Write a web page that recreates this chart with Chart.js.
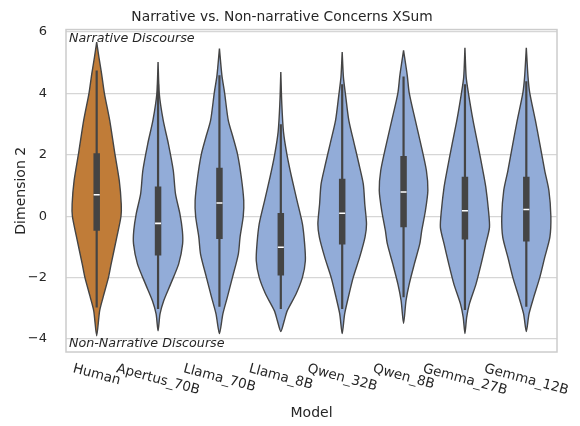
<!DOCTYPE html>
<html>
<head>
<meta charset="utf-8">
<script src="https://cdn.jsdelivr.net/npm/chart.js@4.4.1/dist/chart.umd.min.js"></script>
<style>
  html, body { margin: 0; padding: 0; background: #fff; }
  #wrap { width: 580px; height: 426px; }
</style>
</head>
<body>
<div id="wrap"><canvas id="chart" width="580" height="426"></canvas></div>
<script>
const models = ["Human", "Apertus_70B", "Llama_70B", "Llama_8B", "Qwen_32B", "Qwen_8B", "Gemma_27B", "Gemma_12B"];

// box stats per model
const whiskLow = [-2.97, -3.02, -2.95, -3.02, -3.02, -2.64, -3.05, -2.95];
const q1 = [-0.47, -1.28, -0.74, -1.93, -0.92, -0.36, -0.76, -0.82];
const medians = [0.70, -0.23, 0.43, -1.01, 0.10, 0.79, 0.18, 0.22];
const q3 = [2.05, 0.97, 1.58, 0.11, 1.22, 1.96, 1.29, 1.29];
const whiskHigh = [4.75, 4.30, 4.59, 3.00, 4.30, 4.55, 4.30, 4.40];

// kde outlines: [value, relative density], top to bottom
const humanKde = [[5.67, 0], [5.18, 0.09], [4.64, 0.20], [4.02, 0.31], [3.12, 0.53], [2.09, 0.73], [1.16, 0.92], [0.40, 1.0], [0, 0.99], [-0.68, 0.82], [-1.55, 0.59], [-1.99, 0.48], [-2.64, 0.26], [-3.08, 0.12], [-3.89, 0]];
const apertusKde = [[5.02, 0], [3.99, 0.05], [3.12, 0.21], [2.36, 0.42], [1.49, 0.62], [0.73, 0.71], [0.08, 0.89], [-0.47, 0.99], [-0.90, 1.0], [-1.55, 0.84], [-2.21, 0.51], [-2.75, 0.23], [-3.18, 0.08], [-3.73, 0]];
const llama70Kde = [[5.46, 0], [4.59, 0.10], [4.02, 0.21], [3.12, 0.36], [2.58, 0.55], [2.01, 0.74], [1.27, 0.89], [0.51, 0.99], [0, 0.97], [-0.68, 0.84], [-1.23, 0.77], [-1.99, 0.53], [-2.64, 0.32], [-3.18, 0.14], [-3.82, 0]];
const llama8Kde = [[4.70, 0], [3.66, 0.04], [2.74, 0.11], [2.01, 0.25], [1.27, 0.44], [0.51, 0.66], [-0.25, 0.88], [-0.90, 0.97], [-1.45, 1.0], [-1.99, 0.88], [-2.53, 0.62], [-3.08, 0.26], [-3.40, 0.14], [-3.75, 0]];
const qwen32Kde = [[5.35, 0], [4.53, 0.05], [3.93, 0.14], [3.12, 0.27], [2.36, 0.49], [1.71, 0.68], [1.05, 0.86], [0.40, 0.92], [-0.25, 0.99], [-0.68, 0.93], [-1.34, 0.71], [-1.99, 0.45], [-2.64, 0.25], [-3.18, 0.10], [-3.82, 0]];
const qwen8Kde = [[5.40, 0], [4.59, 0.15], [4.02, 0.23], [3.12, 0.48], [2.36, 0.70], [1.49, 0.93], [0.84, 0.99], [0.18, 0.89], [-0.47, 0.74], [-0.90, 0.66], [-1.55, 0.44], [-2.21, 0.23], [-2.75, 0.10], [-3.49, 0]];
const gemma27Kde = [[5.49, 0], [4.53, 0.05], [4.02, 0.14], [3.12, 0.33], [2.36, 0.52], [1.49, 0.73], [0.95, 0.85], [0.18, 0.96], [-0.36, 1.0], [-0.90, 0.85], [-1.55, 0.66], [-2.21, 0.45], [-2.86, 0.18], [-3.29, 0.07], [-3.82, 0]];
const gemma12Kde = [[5.49, 0], [4.53, 0.07], [4.02, 0.14], [3.12, 0.37], [2.36, 0.55], [1.49, 0.75], [0.84, 0.92], [0, 1.0], [-0.68, 0.96], [-1.34, 0.75], [-1.99, 0.55], [-2.64, 0.30], [-3.18, 0.11], [-3.75, 0]];
const kdeShapes = [humanKde, apertusKde, llama70Kde, llama8Kde, qwen32Kde, qwen8Kde, gemma27Kde, gemma12Kde];

const yTicks = [-4, -2, 0, 2, 4, 6];

const FONT = "'DejaVu Sans', sans-serif";
const TEXT = "#262626";
const LINE = "#444444";
const HUMAN_FILL = "#c07c38";
const MODEL_FILL = "#92acd8";
const halfWidth = 0.4; // widest violin half-width, in category units

const datasets = [];
models.forEach((name, i) => {
  const shape = kdeShapes[i];
  const right = shape.map(([v, d]) => ({ x: i + d * halfWidth, y: v }));
  const left = shape.slice().reverse().map(([v, d]) => ({ x: i - d * halfWidth, y: v }));
  datasets.push({
    label: name,
    data: right.concat(left.slice(1)),
    backgroundColor: i === 0 ? HUMAN_FILL : MODEL_FILL,
    borderColor: LINE,
    borderWidth: 1.4,
    fill: "shape",
    tension: 0.25,
    pointRadius: 0,
    order: 3
  });
  datasets.push({
    data: [{ x: i, y: whiskLow[i] }, { x: i, y: whiskHigh[i] }],
    borderColor: LINE,
    borderWidth: 2.2,
    pointRadius: 0,
    fill: false,
    order: 2
  });
  datasets.push({
    data: [{ x: i, y: q1[i] }, { x: i, y: q3[i] }],
    borderColor: LINE,
    borderWidth: 6.5,
    borderCapStyle: "butt",
    pointRadius: 0,
    fill: false,
    order: 1
  });
  datasets.push({
    type: "scatter",
    data: [{ x: i, y: medians[i] }],
    pointStyle: "line",
    pointRadius: 3,
    pointBorderWidth: 1.6,
    pointBorderColor: "#ffffff",
    order: 0
  });
});

// frame, corner notes and slanted category labels
const decor = {
  id: "decor",
  afterDatasetsDraw(chart) {
    const { ctx, chartArea: a } = chart;
    ctx.save();
    ctx.strokeStyle = "#cccccc";
    ctx.lineWidth = 1.5;
    ctx.strokeRect(a.left, a.top, a.right - a.left, a.bottom - a.top);
    ctx.restore();
  },
  afterDraw(chart) {
    const { ctx, chartArea: a } = chart;
    const xs = chart.scales.x;
    ctx.save();
    ctx.fillStyle = TEXT;
    ctx.font = "italic 12.7px " + FONT;
    ctx.textAlign = "left";
    ctx.textBaseline = "alphabetic";
    ctx.fillText("Narrative Discourse", a.left + 3, a.top + 12);
    ctx.fillText("Non-Narrative Discourse", a.left + 3, a.bottom - 5);

    const size = 13.5;
    const rot = 15 * Math.PI / 180;
    ctx.font = size + "px " + FONT;
    ctx.textAlign = "center";
    ctx.textBaseline = "middle";
    models.forEach((name, i) => {
      const w = ctx.measureText(name).width;
      const h = size * 1.16;
      const boxH = w * Math.sin(rot) + h * Math.cos(rot);
      const cx = xs.getPixelForValue(i);
      const cy = a.bottom + 9 + boxH / 2;
      ctx.save();
      ctx.translate(cx, cy);
      ctx.rotate(rot);
      ctx.fillText(name, 0, 0);
      ctx.restore();
    });
    ctx.restore();
  }
};

new Chart(document.getElementById("chart"), {
  type: "line",
  data: { datasets },
  plugins: [decor],
  options: {
    responsive: false,
    animation: false,
    devicePixelRatio: 1,
    events: [],
    layout: { padding: { left: 7, right: 23, top: 0, bottom: 0 } },
    plugins: {
      legend: { display: false },
      tooltip: { enabled: false },
      title: {
        display: true,
        text: "Narrative vs. Non-narrative Concerns XSum",
        color: TEXT,
        font: { family: FONT, size: 13.8, weight: "normal" },
        padding: { top: 9, bottom: 4 }
      }
    },
    scales: {
      x: {
        type: "linear",
        min: -0.5,
        max: 7.5,
        grid: { display: false },
        border: { display: false },
        ticks: { display: false },
        title: {
          display: true,
          text: "Model",
          color: TEXT,
          font: { family: FONT, size: 14 },
          padding: { top: 0, bottom: 4 }
        },
        afterFit(scale) { scale.height = 74; }
      },
      y: {
        type: "linear",
        min: -4.42,
        max: 6.08,
        afterBuildTicks(scale) { scale.ticks = yTicks.map(v => ({ value: v })); },
        ticks: {
          color: TEXT,
          font: { family: FONT, size: 13 },
          padding: 19,
          callback: v => (v < 0 ? "\u2212" + Math.abs(v) : String(v))
        },
        grid: { color: "#d6d6d6", lineWidth: 1.25, drawTicks: false },
        border: { display: false },
        title: {
          display: true,
          text: "Dimension 2",
          color: TEXT,
          font: { family: FONT, size: 14 },
          padding: { top: 6, bottom: 0 }
        },
        afterFit(scale) { scale.width = 59; }
      }
    }
  }
});
</script>
</body>
</html>
